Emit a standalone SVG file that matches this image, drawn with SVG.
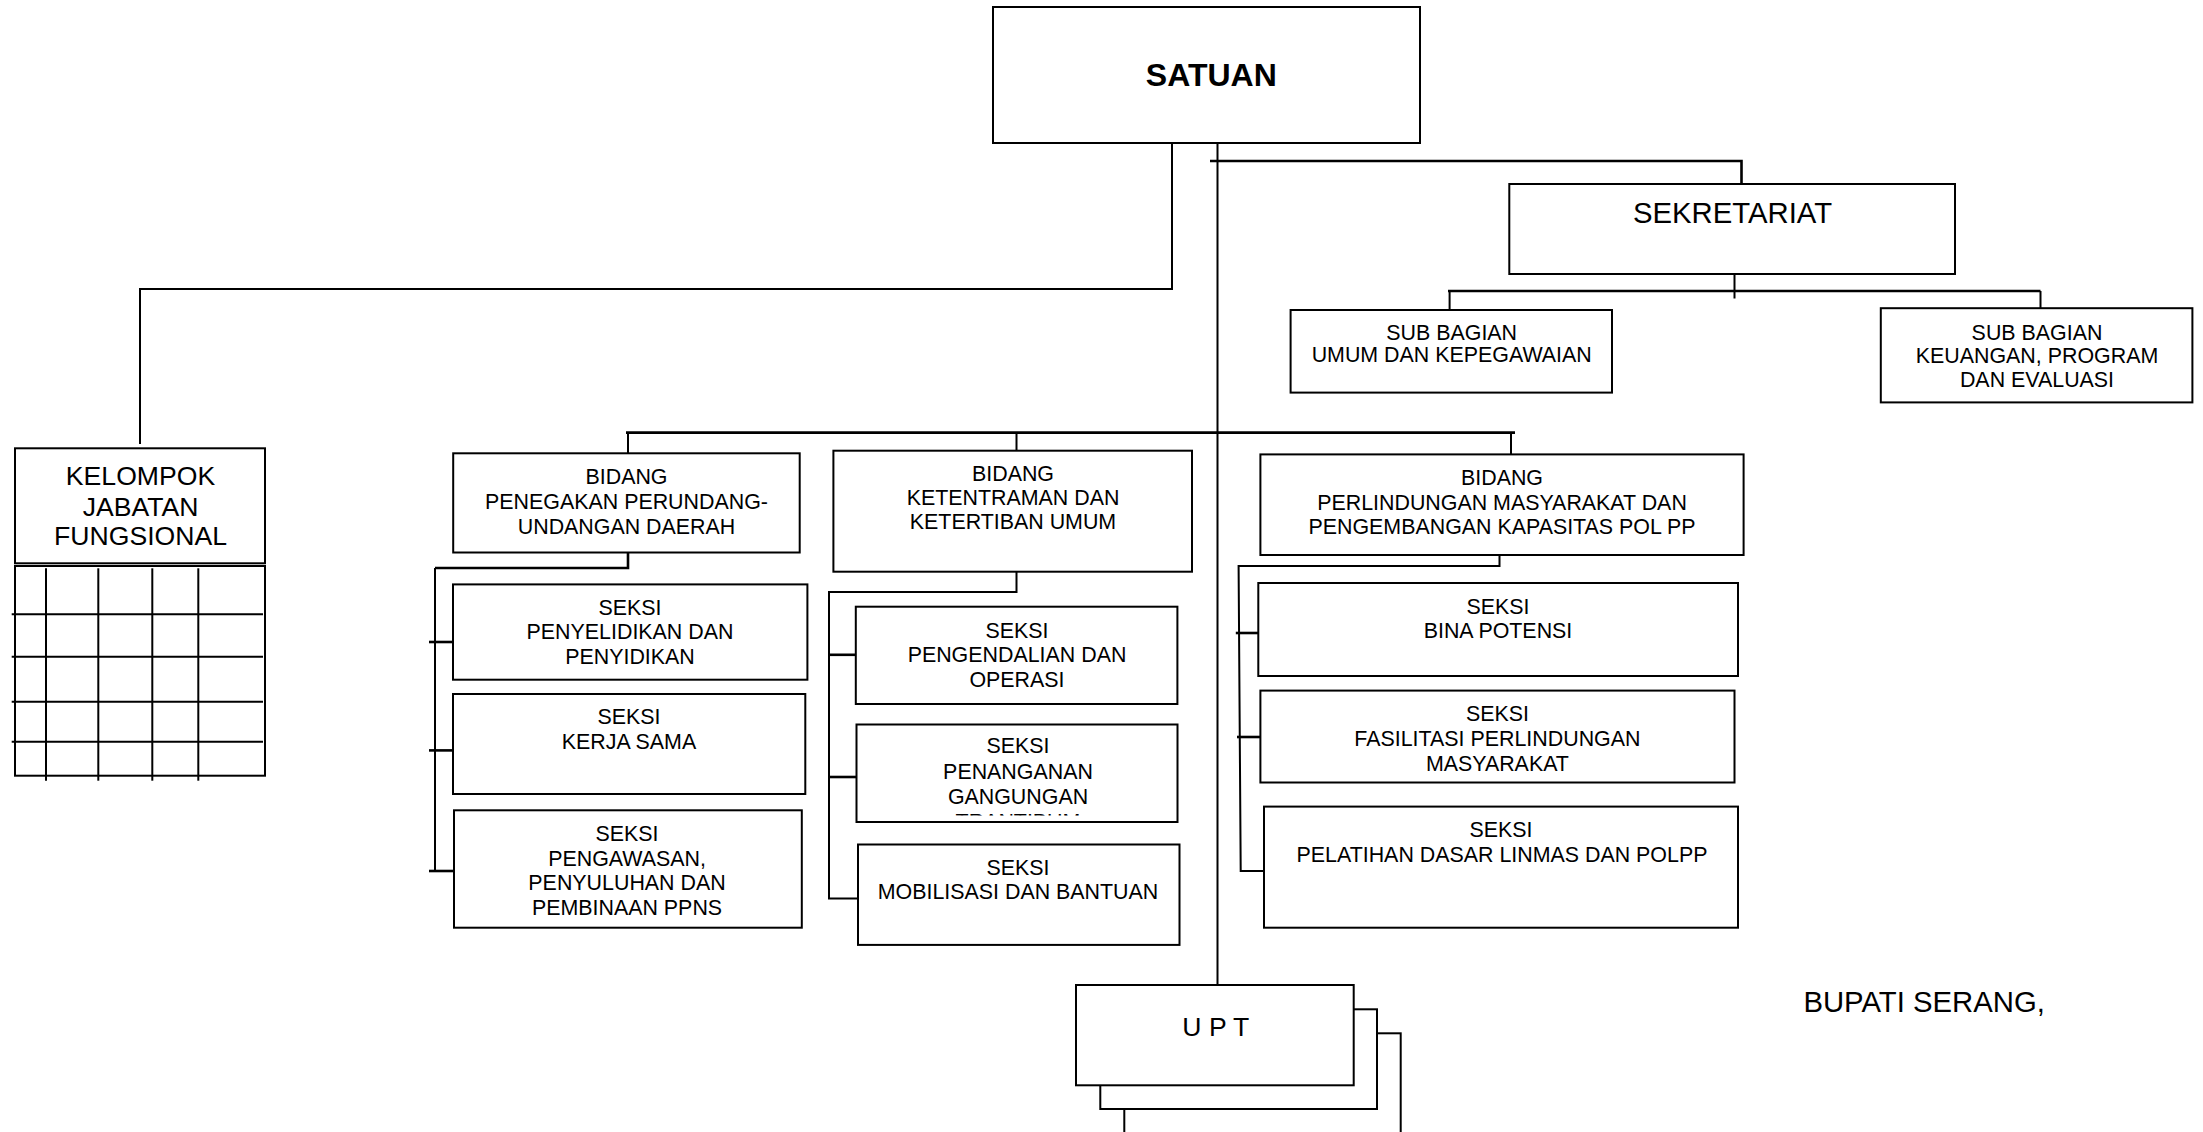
<svg xmlns="http://www.w3.org/2000/svg" width="2203" height="1132" viewBox="0 0 2203 1132">
<style>
.box{fill:#fff;stroke:#000;stroke-width:2}
.c{fill:none;stroke:#000;stroke-width:2}
.b{fill:none;stroke:#000;stroke-width:2.6}
.t{font-family:"Liberation Sans",Arial,sans-serif;font-size:21.4px;text-anchor:middle;fill:#000}
.m{font-family:"Liberation Sans",Arial,sans-serif;font-size:26.6px;text-anchor:middle;fill:#000}
.l{font-family:"Liberation Sans",Arial,sans-serif;font-size:29.3px;fill:#000}
</style>
<defs>
<clipPath id="clipPen"><rect x="857" y="726" width="320" height="89.5"/></clipPath>
</defs>
<rect x="0" y="0" width="2203" height="1132" fill="#fff"/>

<g id="connectors">
<polyline class="c" points="1172,143 1172,289 140,289 140,444"/>
<line class="c" x1="1217.5" y1="143" x2="1217.5" y2="985"/>
<polyline class="b" points="1210,161 1741.5,161 1741.5,184"/>
<line class="c" x1="1734.5" y1="274" x2="1734.5" y2="298.5"/>
<line class="b" x1="1448" y1="291" x2="2040.5" y2="291"/>
<line class="c" x1="1449.6" y1="291" x2="1449.6" y2="310"/>
<line class="c" x1="2040.5" y1="291" x2="2040.5" y2="308"/>
<line class="b" x1="626" y1="432.6" x2="1515" y2="432.6"/>
<line class="c" x1="628" y1="432.6" x2="628" y2="453"/>
<line class="c" x1="1016.5" y1="432.6" x2="1016.5" y2="450.7"/>
<line class="c" x1="1511" y1="432.6" x2="1511" y2="454.4"/>
<polyline class="b" points="628,545 628,568 435,568"/>
<line class="c" x1="435" y1="568" x2="435" y2="871"/>
<line class="b" x1="429" y1="642" x2="456" y2="642"/>
<line class="b" x1="429" y1="750.4" x2="456" y2="750.4"/>
<line class="b" x1="429" y1="871" x2="456" y2="871"/>
<polyline class="c" points="1016.5,563 1016.5,592 829,592 829,898.5 857,898.5"/>
<line class="b" x1="829" y1="654.8" x2="857" y2="654.8"/>
<line class="b" x1="829" y1="777" x2="857" y2="777"/>
<polyline class="c" points="1499.5,547 1499.5,566 1238.6,566 1240.7,871 1264,871"/>
<line class="b" x1="1235.8" y1="633" x2="1258.3" y2="633"/>
<line class="b" x1="1237" y1="737" x2="1260.4" y2="737"/>
</g>

<g id="satuan">
<rect class="box" x="993" y="7" width="427" height="136"/>
<text x="1211.3" y="86" font-family="Liberation Sans, Arial, sans-serif" font-size="32" font-weight="bold" text-anchor="middle">SATUAN</text>
</g>

<g id="kelompok">
<rect class="box" x="15" y="448.3" width="250" height="115"/>
<rect class="box" x="15" y="566" width="250" height="209.7"/>
<g class="c">
<line x1="11.7" y1="614.3" x2="263" y2="614.3"/>
<line x1="11.7" y1="656.7" x2="263" y2="656.7"/>
<line x1="11.7" y1="701.7" x2="263" y2="701.7"/>
<line x1="11.7" y1="741.7" x2="263" y2="741.7"/>
<line x1="46" y1="568.3" x2="46" y2="780.7"/>
<line x1="98.3" y1="568.3" x2="98.3" y2="780.7"/>
<line x1="152.3" y1="568.3" x2="152.3" y2="780.7"/>
<line x1="198.3" y1="568.3" x2="198.3" y2="780.7"/>
</g>
<text class="m" x="140.5" y="485">KELOMPOK</text>
<text class="m" x="140.5" y="515.5">JABATAN</text>
<text class="m" x="140.5" y="545">FUNGSIONAL</text>
</g>

<g id="sekretariat">
<rect class="box" x="1509.3" y="184" width="445.7" height="90"/>
<text class="l" x="1732.5" y="223.3" text-anchor="middle">SEKRETARIAT</text>
</g>

<g id="subbag-umum">
<rect class="box" x="1290.6" y="310" width="321.4" height="82.6"/>
<text class="t" x="1451.7" y="340" font-size="20.6">SUB BAGIAN</text>
<text class="t" x="1451.7" y="362.4" font-size="20.6">UMUM DAN KEPEGAWAIAN</text>
</g>

<g id="subbag-keuangan">
<rect class="box" x="1880.8" y="308.2" width="311.6" height="94.2"/>
<text class="t" x="2037" y="340">SUB BAGIAN</text>
<text class="t" x="2037" y="363">KEUANGAN, PROGRAM</text>
<text class="t" x="2037" y="386.5">DAN EVALUASI</text>
</g>

<g id="bidang-penegakan">
<rect class="box" x="453.2" y="453.3" width="346.5" height="99.2"/>
<text class="t" x="626.5" y="483.5">BIDANG</text>
<text class="t" x="626.5" y="508.5">PENEGAKAN PERUNDANG-</text>
<text class="t" x="626.5" y="533.5">UNDANGAN DAERAH</text>
</g>

<g id="bidang-ketentraman">
<rect class="box" x="833.4" y="450.7" width="358.6" height="121"/>
<text class="t" x="1013" y="480.5">BIDANG</text>
<text class="t" x="1013" y="505.3">KETENTRAMAN DAN</text>
<text class="t" x="1013" y="529">KETERTIBAN UMUM</text>
</g>

<g id="bidang-perlindungan">
<rect class="box" x="1260.4" y="454.4" width="483.2" height="100.6"/>
<text class="t" x="1502" y="485.3">BIDANG</text>
<text class="t" x="1502" y="509.6">PERLINDUNGAN MASYARAKAT DAN</text>
<text class="t" x="1502" y="534.3">PENGEMBANGAN KAPASITAS POL PP</text>
</g>

<g id="seksi-penyelidikan">
<rect class="box" x="453" y="584.4" width="354.4" height="95.3"/>
<text class="t" x="630" y="614.7">SEKSI</text>
<text class="t" x="630" y="639">PENYELIDIKAN DAN</text>
<text class="t" x="630" y="664">PENYIDIKAN</text>
</g>

<g id="seksi-kerjasama">
<rect class="box" x="453" y="694" width="352.3" height="100"/>
<text class="t" x="629" y="724">SEKSI</text>
<text class="t" x="629" y="748.6">KERJA SAMA</text>
</g>

<g id="seksi-pengawasan">
<rect class="box" x="454" y="810.3" width="347.8" height="117.4"/>
<text class="t" x="627" y="841">SEKSI</text>
<text class="t" x="627" y="865.7">PENGAWASAN,</text>
<text class="t" x="627" y="890">PENYULUHAN DAN</text>
<text class="t" x="627" y="914.6">PEMBINAAN PPNS</text>
</g>

<g id="seksi-pengendalian">
<rect class="box" x="855.8" y="606.7" width="321.6" height="97.3"/>
<text class="t" x="1017" y="637.7">SEKSI</text>
<text class="t" x="1017" y="662">PENGENDALIAN DAN</text>
<text class="t" x="1017" y="686.6">OPERASI</text>
</g>

<g id="seksi-penanganan">
<rect class="box" x="856.5" y="724.5" width="321" height="97.5"/>
<text class="t" x="1018" y="753.3">SEKSI</text>
<text class="t" x="1018" y="779.3">PENANGANAN</text>
<text class="t" x="1018" y="804">GANGUNGAN</text>
<text class="t" x="1018" y="828.5" clip-path="url(#clipPen)">TRANTIBUM</text>
</g>

<g id="seksi-mobilisasi">
<rect class="box" x="858" y="844.5" width="321.5" height="100.4"/>
<text class="t" x="1018" y="874.5">SEKSI</text>
<text class="t" x="1018" y="899.3">MOBILISASI DAN BANTUAN</text>
</g>

<g id="seksi-bina-potensi">
<rect class="box" x="1258.3" y="583" width="479.7" height="93"/>
<text class="t" x="1498" y="614">SEKSI</text>
<text class="t" x="1498" y="638.4">BINA POTENSI</text>
</g>

<g id="seksi-fasilitasi">
<rect class="box" x="1260.4" y="690.6" width="474.1" height="91.9"/>
<text class="t" x="1497.4" y="720.5">SEKSI</text>
<text class="t" x="1497.4" y="746">FASILITASI PERLINDUNGAN</text>
<text class="t" x="1497.4" y="770.5">MASYARAKAT</text>
</g>

<g id="seksi-pelatihan">
<rect class="box" x="1264" y="806.6" width="474" height="121.1"/>
<text class="t" x="1501" y="837">SEKSI</text>
<text class="t" x="1502" y="862">PELATIHAN DASAR LINMAS DAN POLPP</text>
</g>

<g id="upt">
<rect class="box" x="1124.3" y="1033.3" width="276.4" height="110"/>
<rect class="box" x="1100.3" y="1009.3" width="276.7" height="99.7"/>
<rect class="box" x="1076" y="985" width="277.7" height="100.3"/>
<text class="m" x="1215.8" y="1036" font-size="27">U P T</text>
</g>

<g id="bupati">
<text class="l" x="1803.4" y="1012.4">BUPATI SERANG,</text>
</g>
</svg>
